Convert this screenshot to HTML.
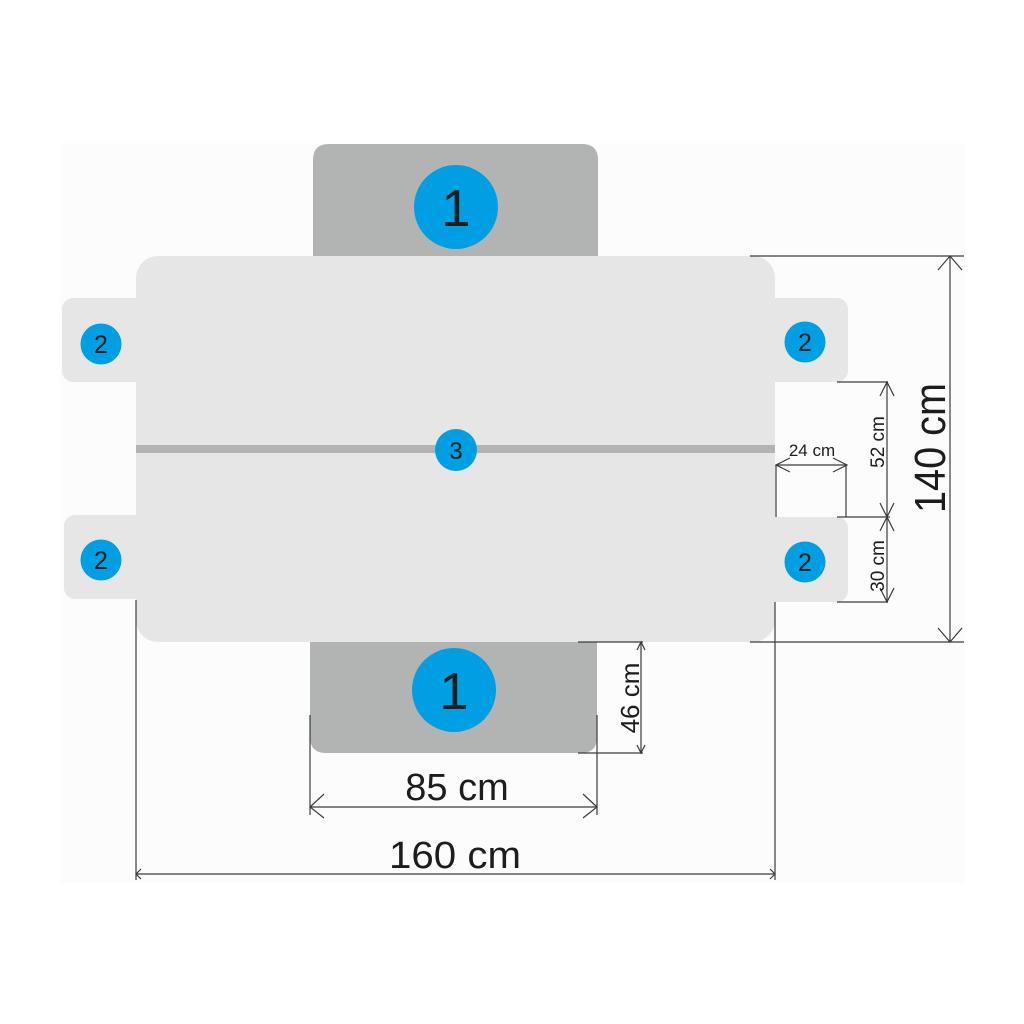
<!DOCTYPE html>
<html><head><meta charset="utf-8"><style>html,body{margin:0;padding:0;background:#fff}svg{display:block}</style></head>
<body>
<svg width="1024" height="1024" viewBox="0 0 1024 1024" xmlns="http://www.w3.org/2000/svg" font-family="Liberation Sans, Arial, sans-serif">
<rect x="0" y="0" width="1024" height="1024" fill="#ffffff"/>
<rect x="60" y="143" width="905" height="740" fill="#fcfcfc"/>
<path d="M313 256 V160 Q313 144 329 144 H582 Q598 144 598 160 V256 Z" fill="#b2b3b3"/>
<path d="M310 642 V737 Q310 753 326 753 H581 Q597 753 597 737 V642 Z" fill="#b2b3b3"/>
<rect x="62" y="298" width="100" height="84" rx="11" fill="#e6e6e6"/>
<rect x="64" y="515" width="100" height="84" rx="11" fill="#e6e6e6"/>
<rect x="748" y="298" width="100" height="84" rx="11" fill="#e6e6e6"/>
<rect x="748" y="517" width="100" height="85" rx="11" fill="#e6e6e6"/>
<rect x="136" y="256" width="639" height="386" rx="22" fill="#e6e6e6"/>
<rect x="136" y="445" width="639" height="8" fill="#b2b3b3"/>
<g fill="#009fe3">
<circle cx="456" cy="207" r="42"/><circle cx="454" cy="690" r="42"/>
<circle cx="101" cy="344" r="20.5"/><circle cx="805" cy="342" r="20.5"/>
<circle cx="101" cy="560" r="20.5"/><circle cx="805" cy="562" r="20.5"/>
<circle cx="456" cy="450" r="21"/>
</g>
<g fill="#1d1d1b" text-anchor="middle">
<text x="456" y="226" font-size="52">1</text>
<text x="454" y="709" font-size="52">1</text>
<text x="101" y="353" font-size="25">2</text>
<text x="805" y="351" font-size="25">2</text>
<text x="101" y="569" font-size="25">2</text>
<text x="805" y="571" font-size="25">2</text>
<text x="456" y="459" font-size="24">3</text>
</g>
<g stroke="#3c3c3c" stroke-width="1.2" fill="none">
<line x1="750" y1="256" x2="964" y2="256"/><line x1="750" y1="642" x2="964" y2="642"/>
<line x1="950" y1="256" x2="950" y2="642"/>
<polyline points="938,270 950,256 962,270"/><polyline points="938,628 950,642 962,628"/>
<line x1="837" y1="382" x2="888" y2="382"/><line x1="837" y1="517" x2="890" y2="517"/><line x1="837" y1="602" x2="888" y2="602"/>
<line x1="887" y1="382" x2="887" y2="602"/>
<polyline points="880,396 887,382 894,396"/><polyline points="880,503 887,517 894,503"/>
<polyline points="880,531 887,517 894,531"/><polyline points="880,588 887,602 894,588"/>
<line x1="776" y1="465" x2="847" y2="465"/>
<line x1="776" y1="465" x2="776" y2="517"/><line x1="846" y1="465" x2="846" y2="517"/>
<polyline points="790,458 776,465 790,472"/><polyline points="833,458 847,465 833,472"/>
<line x1="578" y1="642" x2="643" y2="642"/><line x1="578" y1="753" x2="643" y2="753"/>
<line x1="641" y1="642" x2="641" y2="753"/>
<polyline points="637,650 641,642 645,650"/><polyline points="637,745 641,753 645,745"/>
<line x1="310" y1="715" x2="310" y2="815"/><line x1="597" y1="715" x2="597" y2="815"/>
<line x1="310" y1="807" x2="597" y2="807"/>
<polyline points="324,794 310,807 324,818"/><polyline points="583,794 597,807 583,818"/>
<line x1="136" y1="600" x2="136" y2="880"/><line x1="775" y1="602" x2="775" y2="880"/>
<line x1="136" y1="874" x2="775" y2="874"/>
<polyline points="141,869 136,874 141,879"/><polyline points="770,869 775,874 770,879"/>
</g>
<g fill="#1d1d1b" text-anchor="middle">
<text x="455" y="868" font-size="38" textLength="132" lengthAdjust="spacingAndGlyphs">160 cm</text>
<text x="457" y="800" font-size="38">85 cm</text>
<text x="812" y="456" font-size="17">24 cm</text>
<text transform="translate(945,448) rotate(-90)" font-size="44" textLength="130" lengthAdjust="spacingAndGlyphs">140 cm</text>
<text transform="translate(884,442) rotate(-90)" font-size="19">52 cm</text>
<text transform="translate(884,566) rotate(-90)" font-size="19">30 cm</text>
<text transform="translate(639,698) rotate(-90)" font-size="26">46 cm</text>
</g>
</svg>
</body></html>
